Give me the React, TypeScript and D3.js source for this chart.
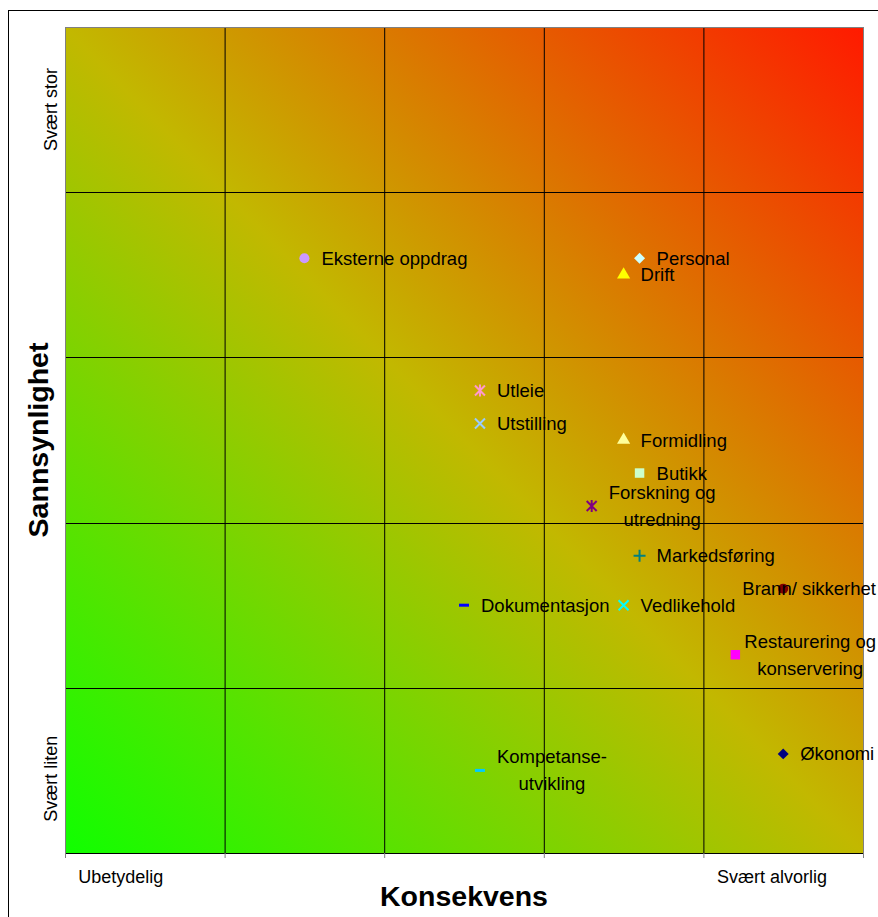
import React, { useEffect, useRef } from "react";
import * as d3 from "d3";

const names = [
  "Eksterne oppdrag", "Personal", "Drift", "Utleie", "Utstilling", "Formidling", "Butikk",
  "Forskning og utredning", "Markedsføring", "Brann/ sikkerhet", "Dokumentasjon", "Vedlikehold",
  "Restaurering og konservering", "Økonomi", "Kompetanse-utvikling",
];
const labelLines = [
  ["Eksterne oppdrag"], ["Personal"], ["Drift"], ["Utleie"], ["Utstilling"], ["Formidling"], ["Butikk"],
  ["Forskning og", "utredning"], ["Markedsføring"], ["Brann/ sikkerhet"], ["Dokumentasjon"], ["Vedlikehold"],
  ["Restaurering og", "konservering"], ["Økonomi"], ["Kompetanse-", "utvikling"],
];
const konsekvens = [1.5, 3.6, 3.5, 2.6, 2.6, 3.5, 3.6, 3.3, 3.6, 4.5, 2.5, 3.5, 4.2, 4.5, 2.6];
const sannsynlighet = [3.6, 3.6, 3.5, 2.8, 2.6, 2.5, 2.3, 2.1, 1.8, 1.6, 1.5, 1.5, 1.2, 0.6, 0.5];
const markers = [
  "circle", "diamond", "triangle", "asterisk", "x", "triangle", "square",
  "asterisk", "plus", "circle", "dash", "x", "square", "diamond", "dash",
];
const colors = [
  "#cc99ff", "#ccffff", "#ffff00", "#ff99cc", "#99ccff", "#ffff99", "#ccffcc",
  "#800080", "#008080", "#800000", "#0000ff", "#00ffff", "#ff00ff", "#000080", "#00ccff",
];
const xTickValues = [0.35, 4.43];
const xTickLabels = ["Ubetydelig", "Svært alvorlig"];
const yTickValues = [4.5, 0.45];
const yTickLabels = ["Svært stor", "Svært liten"];
const gridValues = [0, 1, 2, 3, 4, 5];

const W = 878, H = 917;
const L = 65, R = 863, T = 27, B = 853;
const FONT = "'Liberation Sans', Arial, sans-serif";

export default function App() {
  const ref = useRef<SVGSVGElement>(null);
  useEffect(() => {
    const svg = d3.select(ref.current);
    svg.selectAll("*").remove();
    const x = d3.scaleLinear().domain([0, 5]).range([L, R]);
    const y = d3.scaleLinear().domain([0, 5]).range([B, T]);

    const defs = svg.append("defs");
    const g = defs.append("linearGradient").attr("id", "bg")
      .attr("x1", 0).attr("y1", 1).attr("x2", 1).attr("y2", 0);
    g.append("stop").attr("offset", 0).attr("stop-color", "#10ff00");
    g.append("stop").attr("offset", 0.5).attr("stop-color", "#c2b800");
    g.append("stop").attr("offset", 1).attr("stop-color", "#ff1a00");

    // outer frame
    svg.append("rect").attr("x", 8.5).attr("y", 10.5).attr("width", 900).attr("height", 950)
      .attr("fill", "white").attr("stroke", "black");

    svg.append("rect").attr("x", L).attr("y", T).attr("width", R - L).attr("height", B - T)
      .attr("fill", "url(#bg)");

    // grid
    svg.append("g").selectAll("line").data(gridValues.slice(1, 5)).join("line")
      .attr("x1", (d) => x(d) + 0.5).attr("x2", (d) => x(d) + 0.5).attr("y1", T).attr("y2", B)
      .attr("stroke", "#000").attr("stroke-width", 1);
    svg.append("g").selectAll("line").data(gridValues.slice(1, 5)).join("line")
      .attr("y1", (d) => Math.round(y(d)) + 0.5).attr("y2", (d) => Math.round(y(d)) + 0.5).attr("x1", L).attr("x2", R)
      .attr("stroke", "#000").attr("stroke-width", 1);
    // borders
    svg.append("line").attr("x1", L).attr("x2", R).attr("y1", T + 0.5).attr("y2", T + 0.5).attr("stroke", "#808080");
    svg.append("line").attr("x1", R + 0.5).attr("x2", R + 0.5).attr("y1", T).attr("y2", B).attr("stroke", "#808080");
    svg.append("line").attr("x1", L + 0.5).attr("x2", L + 0.5).attr("y1", T).attr("y2", B + 5).attr("stroke", "#808080");
    svg.append("line").attr("x1", L).attr("x2", R + 1).attr("y1", B + 0.5).attr("y2", B + 0.5).attr("stroke", "#000");
    svg.append("g").selectAll("line").data(gridValues).join("line")
      .attr("x1", (d) => x(d) + 0.5).attr("x2", (d) => x(d) + 0.5).attr("y1", B).attr("y2", B + 5)
      .attr("stroke", "#808080");

    // tick labels
    svg.append("g").selectAll("text").data(xTickValues).join("text")
      .attr("x", (d) => x(d)).attr("y", 883).attr("text-anchor", "middle")
      .attr("font-family", FONT).attr("font-size", 18)
      .text((d, i) => xTickLabels[i]);
    svg.append("g").selectAll("text").data(yTickValues).join("text")
      .attr("transform", (d) => `translate(57,${y(d)}) rotate(-90)`).attr("text-anchor", "middle")
      .attr("font-family", FONT).attr("font-size", 18)
      .text((d, i) => yTickLabels[i]);

    // axis titles
    svg.append("text").attr("x", (L + R) / 2).attr("y", 906).attr("text-anchor", "middle")
      .attr("font-family", FONT).attr("font-weight", "bold").attr("font-size", 28.5).text("Konsekvens");
    svg.append("text").attr("transform", `translate(48,${(T + B) / 2}) rotate(-90)`).attr("text-anchor", "middle")
      .attr("font-family", FONT).attr("font-weight", "bold").attr("font-size", 28.5).text("Sannsynlighet");

    // markers
    const mg = svg.append("g");
    names.forEach((n, i) => {
      const cx = x(konsekvens[i]);
      const cy = y(sannsynlighet[i]);
      const c = colors[i];
      const m = markers[i];
      const grp = mg.append("g").attr("transform", `translate(${cx},${cy})`);
      const s = 5;
      if (m === "circle") grp.append("path").attr("d", d3.symbol(d3.symbolCircle, 80)()).attr("fill", c);
      else if (m === "diamond") grp.append("path").attr("d", d3.symbol(d3.symbolSquare, 60)()).attr("transform", "rotate(45)").attr("fill", c);
      else if (m === "triangle") grp.append("path").attr("d", d3.symbol(d3.symbolTriangle, 75)()).attr("fill", c);
      else if (m === "square") grp.append("path").attr("d", d3.symbol(d3.symbolSquare, 90)()).attr("fill", c);
      else if (m === "x" || m === "asterisk") {
        grp.append("path").attr("d", `M${-s},${-s}L${s},${s}M${-s},${s}L${s},${-s}` + (m === "asterisk" ? `M0,${-s - 1}L0,${s + 1}` : ""))
          .attr("stroke", c).attr("stroke-width", 2).attr("fill", "none");
      } else if (m === "plus") {
        grp.append("path").attr("d", `M${-6},0L6,0M0,-6L0,6`).attr("stroke", c).attr("stroke-width", 2);
      } else if (m === "dash") {
        grp.append("path").attr("d", `M-5,0L5,0`).attr("stroke", c).attr("stroke-width", 3);
      }
    });

    // labels
    const lg = svg.append("g").attr("font-family", FONT).attr("font-size", 18.5).attr("fill", "#000");
    names.forEach((n, i) => {
      const cx = x(konsekvens[i]);
      const cy = y(sannsynlighet[i]);
      const lines = labelLines[i];
      const t = lg.append("text");
      const lh = 27;
      const tspans = lines.map((ln, k) =>
        t.append("tspan").attr("y", cy + 6.5 + (k - (lines.length - 1) / 2) * lh).text(ln)
      );
      const widths = tspans.map((ts) => (ts.node() as SVGTSpanElement).getComputedTextLength());
      const maxW = Math.max(...widths);
      let start = cx + 17;
      if (start + maxW > 876) start = 876 - maxW;
      const center = start + maxW / 2;
      tspans.forEach((ts, k) => ts.attr("x", center - widths[k] / 2));
    });
  }, []);
  return (
    <svg ref={ref} width={W} height={H} style={{ position: "absolute", left: 0, top: 0, display: "block" }} />
  );
}
